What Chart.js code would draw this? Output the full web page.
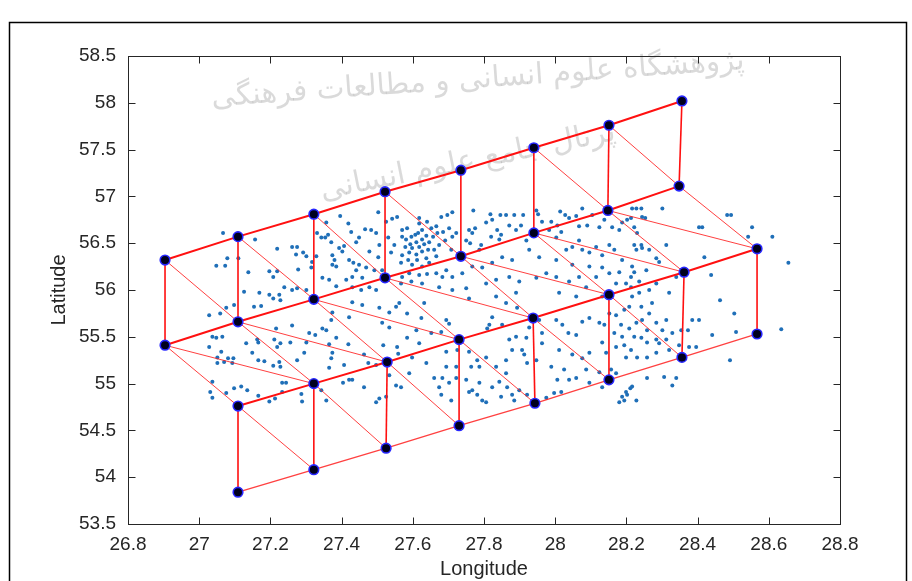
<!DOCTYPE html>
<html><head><meta charset="utf-8">
<script src="https://cdn.jsdelivr.net/npm/chart.js@4.4.0/dist/chart.umd.min.js"></script>
<style>html,body{margin:0;padding:0;background:#fff;overflow:hidden}canvas{display:block}</style>
</head><body>
<canvas id="c" width="912" height="581"></canvas>
<script>
// ---- axis ticks ----
const xTicks = [26.8,27,27.2,27.4,27.6,27.8,28,28.2,28.4,28.6,28.8];
const yTicks = [53.5,54,54.5,55,55.5,56,56.5,57,57.5,58,58.5];
const xTitle = 'Longitude';
const yTitle = 'Latitude';
const wmLine1 = 'پژوهشگاه علوم انسانی و مطالعات فرهنگی';
const wmLine2 = 'پرتال جامع علوم انسانی';

// ---- mesh nodes (4 rows) ----
const rowALon = [26.904,27.109,27.322,27.522,27.735,27.940,28.151,28.356];
const rowALat = [56.32,56.57,56.81,57.05,57.28,57.52,57.76,58.02];
const rowBLon = [26.904,27.109,27.322,27.522,27.735,27.940,28.148,28.348];
const rowBLat = [55.41,55.66,55.90,56.13,56.36,56.61,56.85,57.11];
const rowCLon = [27.109,27.322,27.528,27.730,27.938,28.151,28.362,28.567];
const rowCLat = [54.76,55.00,55.23,55.47,55.70,55.95,56.19,56.44];
const rowDLon = [27.109,27.322,27.525,27.730,27.943,28.151,28.356,28.567];
const rowDLat = [53.84,54.08,54.31,54.55,54.79,55.04,55.28,55.53];

// ---- observation points [lon, lat] ----
const dotsWest = [[27.067,56.61],[27.157,56.54],[27.079,56.34],[27.048,56.26],[27.073,56.26],[27.110,56.34],[27.138,56.19],[27.219,56.44],[27.197,56.20],[27.219,56.20],[27.208,56.14],[27.261,56.46],[27.275,56.46],[27.272,56.38],[27.292,56.40],[27.301,56.36],[27.278,56.22],[27.315,56.24],[27.317,56.30],[27.329,56.36],[27.331,56.61],[27.343,56.56],[27.354,56.56],[27.362,56.59],[27.371,56.51],[27.357,56.72],[27.396,56.79],[27.374,56.37],[27.380,56.32],[27.374,56.27],[27.385,56.25],[27.393,56.45],[27.407,56.47],[27.402,56.41],[27.419,56.71],[27.427,56.62],[27.441,56.51],[27.449,56.56],[27.421,56.32],[27.433,56.29],[27.449,56.27],[27.441,56.21],[27.413,56.11],[27.430,56.14],[27.458,56.13],[27.466,56.65],[27.483,56.64],[27.497,56.61],[27.478,56.41],[27.506,56.48],[27.503,56.35],[27.469,56.24],[27.492,56.21],[27.514,56.21],[27.525,56.73],[27.542,56.76],[27.503,56.83],[27.556,56.78],[27.531,56.56],[27.548,56.48],[27.539,56.40],[27.478,56.03],[27.497,56.00],[27.455,56.00],[27.430,56.03],[27.365,56.11],[27.346,56.13],[27.385,56.04],[27.169,55.97],[27.197,55.95],[27.225,55.95],[27.208,55.91],[27.126,55.98],[27.098,55.84],[27.174,55.83],[27.154,55.82],[27.228,55.89],[27.239,56.03],[27.261,56.00],[27.275,56.02],[27.301,56.00],[27.028,55.73],[27.059,55.75],[27.076,55.81],[27.261,55.62],[27.346,55.59],[27.371,55.68],[27.374,55.76],[27.421,55.71],[27.216,55.59],[27.506,55.81],[27.534,55.76],[27.553,55.82],[27.458,55.84],[27.430,55.87],[27.514,55.65],[27.534,55.60]];
const dotsSouthWest = [[27.037,55.50],[27.048,55.49],[27.065,55.50],[27.028,55.39],[27.062,55.34],[27.051,55.28],[27.081,55.27],[27.096,55.27],[27.051,55.22],[27.070,55.23],[27.093,55.22],[27.132,55.43],[27.149,55.33],[27.166,55.44],[27.183,55.24],[27.219,55.39],[27.228,55.43],[27.256,55.44],[27.208,55.19],[27.228,55.18],[27.037,55.02],[27.031,54.91],[27.037,54.85],[27.076,54.90],[27.098,54.95],[27.118,54.97],[27.135,54.93],[27.166,54.87],[27.197,54.81],[27.213,54.84],[27.233,55.01],[27.244,55.01],[27.233,54.91],[27.287,54.89],[27.289,54.81],[27.295,55.33],[27.326,55.52],[27.343,54.93],[27.357,54.82],[27.365,55.17],[27.371,55.27],[27.374,55.33],[27.365,55.42],[27.419,55.42],[27.404,55.01],[27.421,55.04],[27.430,55.04],[27.463,54.96],[27.475,55.22],[27.497,54.80],[27.506,54.84],[27.525,54.86],[27.534,55.09],[27.553,54.98],[27.559,55.32],[27.556,55.39],[27.163,55.47],[27.211,55.47],[27.301,55.44],[27.309,55.54],[27.357,55.57],[27.385,55.49],[27.166,55.25],[27.225,55.23],[27.275,55.25],[27.463,55.31],[27.497,55.20],[27.407,55.20],[27.517,55.41]];
const dotsCentre = [[27.618,56.77],[27.640,56.73],[27.680,56.78],[27.697,56.80],[27.711,56.83],[27.770,56.85],[27.818,56.81],[27.823,56.75],[27.846,56.80],[27.862,56.80],[27.885,56.80],[27.910,56.80],[27.947,56.85],[27.952,56.81],[27.963,56.73],[27.989,56.73],[28.014,56.84],[28.028,56.80],[28.039,56.77],[28.059,56.79],[28.076,56.87],[28.104,56.80],[28.090,56.69],[28.067,56.68],[28.124,56.67],[28.138,56.75],[28.160,56.67],[27.570,56.64],[27.584,56.66],[27.570,56.57],[27.581,56.54],[27.596,56.57],[27.607,56.59],[27.615,56.61],[27.626,56.64],[27.638,56.58],[27.626,56.54],[27.610,56.51],[27.593,56.49],[27.579,56.46],[27.598,56.45],[27.618,56.46],[27.632,56.49],[27.646,56.51],[27.657,56.57],[27.669,56.61],[27.685,56.62],[27.702,56.66],[27.652,56.66],[27.666,56.68],[27.618,56.71],[27.643,56.43],[27.626,56.41],[27.610,56.38],[27.590,56.40],[27.660,56.43],[27.674,56.48],[27.691,56.53],[27.711,56.57],[27.722,56.61],[27.570,56.37],[27.587,56.32],[27.612,56.32],[27.638,56.34],[27.567,56.29],[27.598,56.27],[27.626,56.25],[27.646,56.29],[27.666,56.36],[27.708,56.43],[27.758,56.64],[27.767,56.61],[27.775,56.66],[27.750,56.53],[27.761,56.50],[27.787,56.43],[27.792,56.48],[27.806,56.72],[27.820,56.57],[27.837,56.64],[27.843,56.54],[27.848,56.59],[27.871,56.69],[27.890,56.64],[27.904,56.69],[27.919,56.53],[27.983,56.64],[28.006,56.69],[28.017,56.62],[28.003,56.56],[28.031,56.43],[28.048,56.46],[28.067,56.53],[28.076,56.43],[28.096,56.40],[28.115,56.46],[28.132,56.37],[28.152,56.48],[28.166,56.43],[28.003,56.32],[27.955,56.35],[27.927,56.43],[27.879,56.32],[27.851,56.35],[27.823,56.29],[27.795,56.24],[27.767,56.25],[27.739,56.18],[27.711,56.14],[27.694,56.21],[27.683,56.14],[27.666,56.18],[27.640,56.17],[27.618,56.16],[27.590,56.18],[27.570,56.14],[27.567,56.07],[27.596,56.09],[27.626,56.07],[27.674,56.03],[27.711,56.00],[27.750,56.02],[27.806,56.07],[27.834,56.11],[27.871,56.14],[27.899,56.09],[27.947,56.13],[27.975,56.18],[28.003,56.14],[28.039,56.09],[28.067,56.14],[28.087,56.03],[28.115,56.14],[28.132,56.24],[28.152,56.18],[28.171,56.07],[28.048,56.27],[28.096,56.25],[27.890,55.97],[27.834,55.93],[27.758,55.91],[28.011,55.97],[28.059,55.93],[28.132,55.93]];
const dotsSouth = [[27.562,55.86],[27.584,55.75],[27.624,55.70],[27.632,55.86],[27.694,55.68],[27.702,55.64],[27.652,55.54],[27.680,55.55],[27.694,55.34],[27.725,55.36],[27.758,55.34],[27.781,55.25],[27.764,55.18],[27.815,55.63],[27.809,55.59],[27.851,55.63],[27.823,55.71],[27.862,55.86],[27.893,55.81],[27.907,55.36],[27.913,55.31],[27.921,55.22],[27.590,55.11],[27.567,54.96],[27.660,55.06],[27.683,55.06],[27.674,54.96],[27.702,55.01],[27.722,55.06],[27.680,54.88],[27.708,54.82],[27.750,55.04],[27.758,54.91],[27.767,54.93],[27.781,54.88],[27.787,55.01],[27.795,54.82],[27.806,54.80],[27.823,54.96],[27.843,55.02],[27.848,54.86],[27.865,54.96],[27.879,54.88],[27.885,54.82],[27.899,54.93],[27.921,54.88],[27.834,55.18],[27.862,55.11],[27.787,55.18],[28.003,55.68],[28.020,55.63],[28.037,55.54],[28.059,55.52],[28.076,55.66],[28.096,55.70],[28.124,55.65],[28.138,55.63],[28.152,55.75],[28.171,55.73],[28.166,55.54],[28.132,55.44],[28.096,55.33],[28.076,55.27],[28.048,55.31],[28.011,55.36],[27.989,55.18],[28.006,55.04],[28.025,55.15],[28.039,55.04],[28.059,55.06],[28.017,54.91],[27.997,54.90],[27.975,54.85],[28.087,55.15],[28.124,55.12],[28.096,55.01],[28.132,54.96],[28.157,55.15],[28.171,55.11],[28.143,55.33],[28.171,55.39],[27.947,55.25],[27.963,55.43],[27.963,55.54],[27.955,55.68],[27.927,55.60],[27.919,55.49],[27.890,55.50],[27.871,55.47],[27.879,55.36],[27.862,55.25],[27.806,55.28],[27.722,55.18],[27.694,55.18],[27.638,55.22],[27.598,55.28],[27.618,55.43],[27.584,55.49],[27.610,55.57]];
const dotsEast = [[28.216,56.87],[28.228,56.87],[28.242,56.87],[28.301,56.87],[28.244,56.78],[28.253,56.77],[28.213,56.77],[28.202,56.75],[28.188,56.72],[28.180,56.64],[28.222,56.67],[28.230,56.61],[28.242,56.48],[28.244,56.45],[28.222,56.48],[28.228,56.43],[28.264,56.43],[28.284,56.34],[28.292,56.30],[28.312,56.48],[28.216,56.25],[28.222,56.19],[28.213,56.14],[28.236,56.09],[28.213,56.03],[28.199,56.07],[28.180,56.19],[28.188,56.32],[28.256,56.21],[28.264,56.00],[28.284,56.07],[28.320,55.97],[28.340,56.14],[28.404,56.67],[28.413,56.67],[28.483,56.80],[28.494,56.80],[28.553,56.67],[28.542,56.57],[28.610,56.57],[28.419,56.35],[28.438,56.16],[28.385,55.68],[28.404,55.68],[28.354,55.57],[28.348,55.41],[28.376,55.39],[28.396,55.39],[28.463,55.89],[28.503,55.75],[28.508,55.55],[28.441,55.52],[28.635,55.58],[28.655,56.29],[28.236,55.97],[28.242,55.82],[28.272,55.86],[28.264,55.75],[28.244,55.68],[28.228,55.65],[28.208,55.59],[28.185,55.63],[28.188,55.50],[28.222,55.50],[28.242,55.49],[28.258,55.44],[28.284,55.47],[28.292,55.43],[28.312,55.47],[28.320,55.36],[28.284,55.33],[28.258,55.28],[28.230,55.28],[28.199,55.28],[28.194,55.41],[28.213,55.36],[28.258,55.57],[28.284,55.65],[28.301,55.57],[28.329,55.54],[28.312,55.68],[28.194,55.79],[28.208,55.82],[28.216,55.93],[28.491,55.25],[28.373,55.57]];
const dotsSouthEast = [[28.180,54.80],[28.194,54.82],[28.199,54.91],[28.211,54.95],[28.216,54.97],[28.202,54.88],[28.228,54.82],[28.188,54.86],[28.258,55.06],[28.306,55.07],[28.340,55.06],[28.329,54.98]];

// ---- build datasets ----
const P = (lon, lat, i) => ({x: lon[i], y: lat[i]});
const A = i => P(rowALon, rowALat, i), B = i => P(rowBLon, rowBLat, i);
const C = i => P(rowCLon, rowCLat, i), D = i => P(rowDLon, rowDLat, i);
const RED = '#ff1010', RED_THIN = 'rgba(255,30,30,0.85)';
const datasets = [];
const nodes = [];
rowALon.forEach((_, i) => nodes.push(A(i)));
rowBLon.forEach((_, i) => nodes.push(B(i)));
rowCLon.forEach((_, i) => nodes.push(C(i)));
rowDLon.forEach((_, i) => nodes.push(D(i)));
datasets.push({data: nodes, pointRadius: 4.8, pointBackgroundColor: '#00001e', pointBorderColor: '#2626ff', pointBorderWidth: 1.6, showLine: false, order: 0});
function seg(pts, w, col) { datasets.push({data: pts, showLine: true, borderColor: col, borderWidth: w, pointRadius: 0, fill: false, order: 1}); }
seg(rowALon.map((_, i) => A(i)), 2, RED);
seg(rowBLon.map((_, i) => B(i)), 2, RED);
seg(rowCLon.map((_, i) => C(i)), 2, RED);
seg(rowDLon.map((_, i) => D(i)), 1.3, RED_THIN);
for (let i = 0; i < 8; i++) { seg([A(i), B(i)], 1.6, RED); seg([C(i), D(i)], 1.6, RED); }
[0,1,2,3,5,6].forEach(i => seg([A(i), B(i+1)], 1, RED_THIN));
for (let i = 0; i < 8; i++) seg([B(i), C(i)], 1, RED_THIN);
for (let i = 0; i < 7; i++) seg([B(i), C(i+1)], 1, RED_THIN);
for (let i = 0; i < 6; i++) seg([C(i), D(i+1)], 1, RED_THIN);
const allDots = [].concat(dotsWest, dotsSouthWest, dotsCentre, dotsSouth, dotsEast, dotsSouthEast).map(p => ({x: p[0], y: p[1]}));
datasets.push({data: allDots, pointRadius: 2, pointBackgroundColor: '#1f6fb8', pointBorderWidth: 0, showLine: false, order: 2});

// ---- plugins ----
const boxPlugin = {
  id: 'box',
  beforeDatasetsDraw(chart) {
    const ctx = chart.ctx;
    function fit(text, cx, cy, w, rot) {
      ctx.save(); ctx.translate(cx, cy); ctx.rotate(rot);
      ctx.font = '40px "DejaVu Sans"';
      const m = ctx.measureText(text).width || 1;
      ctx.font = (40 * w / m).toFixed(1) + 'px "DejaVu Sans"';
      ctx.textAlign = 'center'; ctx.textBaseline = 'middle';
      ctx.fillText(text, 0, 0); ctx.restore();
    }
    ctx.save();
    ctx.fillStyle = 'rgba(100,100,100,0.24)';
    fit(wmLine1, 478, 80, 535, -0.07);
    fit(wmLine2, 468, 162, 300, -0.2);
    ctx.restore();
  },
  afterDraw(chart) {
    const {ctx, chartArea: a, scales: {x, y}} = chart;
    ctx.save();
    ctx.strokeStyle = '#262626'; ctx.lineWidth = 1;
    const l = Math.round(a.left) + 0.5, r = Math.round(a.right) + 0.5, t = Math.round(a.top) + 0.5, b = Math.round(a.bottom) + 0.5;
    ctx.strokeRect(l, t, r - l, b - t);
    const L = 7;
    ctx.beginPath();
    xTicks.forEach(v => { const px = Math.round(x.getPixelForValue(v)) + 0.5; ctx.moveTo(px, b); ctx.lineTo(px, b - L); ctx.moveTo(px, t); ctx.lineTo(px, t + L); });
    yTicks.forEach(v => { const py = Math.round(y.getPixelForValue(v)) + 0.5; ctx.moveTo(l, py); ctx.lineTo(l + L, py); ctx.moveTo(r, py); ctx.lineTo(r - L, py); });
    ctx.stroke();
    ctx.strokeStyle = '#000'; ctx.lineWidth = 1.5;
    ctx.strokeRect(9.5, 22.5, 897, 640);
    ctx.restore();
  }
};

Chart.defaults.font.family = '"Liberation Sans", Arial, sans-serif';
Chart.defaults.color = '#262626';
new Chart(document.getElementById('c'), {
  type: 'scatter',
  data: {datasets},
  plugins: [boxPlugin],
  options: {
    responsive: false, animation: false, devicePixelRatio: 1,
    layout: {padding: {top: 56, right: 72, left: 0, bottom: 0}},
    plugins: {legend: {display: false}, tooltip: {enabled: false}},
    scales: {
      x: {
        type: 'linear', min: 26.8, max: 28.8,
        afterBuildTicks: s => { s.ticks = xTicks.map(v => ({value: v})); },
        afterFit: s => { s.height = 57; },
        grid: {display: false, drawTicks: false},
        border: {display: false},
        ticks: {padding: 9, font: {size: 19}, color: '#262626', maxRotation: 0, autoSkip: false, callback: v => String(+(+v).toFixed(1))},
        title: {display: true, text: xTitle, font: {size: 20}, color: '#262626', padding: {top: 0, bottom: 0}}
      },
      y: {
        type: 'linear', min: 53.5, max: 58.5,
        afterBuildTicks: s => { s.ticks = yTicks.map(v => ({value: v})); },
        afterFit: s => { s.width = 128; },
        grid: {display: false, drawTicks: false},
        border: {display: false},
        ticks: {padding: 12, font: {size: 19}, color: '#262626', autoSkip: false, callback: v => String(+(+v).toFixed(1))},
        title: {display: true, text: yTitle, font: {size: 20}, color: '#262626', padding: {top: 47, bottom: 0}}
      }
    }
  }
});
</script>
</body></html>
